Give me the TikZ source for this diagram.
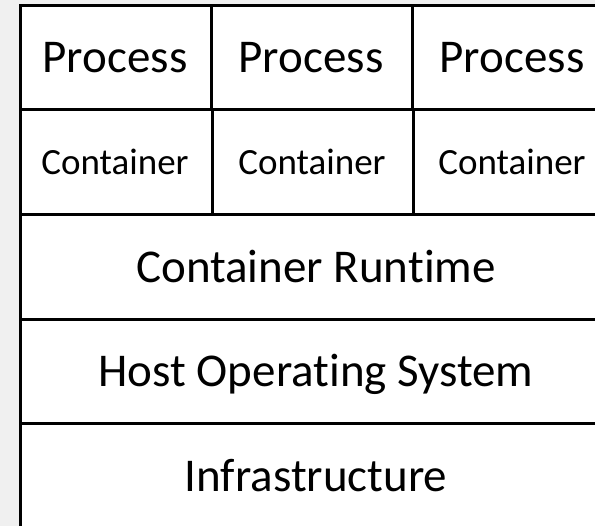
\documentclass[tikz,border=0pt]{standalone}
\usepackage{fontspec}
\setmainfont[Ligatures={NoCommon}]{Carlito}
\definecolor{pagegray}{HTML}{F0F0F0}
\tikzset{
  layer/.style={line width=3pt, draw=black},
  bigtext/.style={anchor=base, inner sep=0pt, font=\fontsize{47}{50}\selectfont},
  smalltext/.style={anchor=base, inner sep=0pt, font=\fontsize{37}{40}\selectfont},
}
\begin{document}
\begin{tikzpicture}[x=1pt, y=-1pt]
  \useasboundingbox (0,0) rectangle (595,526);
  \clip (0,0) rectangle (595,526);
  \fill[pagegray] (0,0) rectangle (595,526);
  % stack outline (runs past the right and bottom edges)
  \filldraw[layer, fill=white] (20,6) rectangle (612,529);
  % row separators
  \draw[layer] (20,110) -- (612,110);
  \draw[layer] (20,215) -- (612,215);
  \draw[layer] (20,320) -- (612,320);
  \draw[layer] (20,424) -- (612,424);
  % column separators in the top two rows
  \draw[layer] (211,6) -- (211,110);
  \draw[layer] (212,110) -- (212,215);
  \draw[layer] (412,6) -- (412,110);
  \draw[layer] (413,110) -- (413,215);
  % labels
  \node[bigtext] (p1) at (115,73) {Process};
  \node[bigtext] (p2) at (311,73) {Process};
  \node[bigtext] (p3) at (512,73) {Process};
  \node[smalltext] (c1) at (115,175) {Container};
  \node[smalltext] (c2) at (312,175) {Container};
  \node[smalltext] (c3) at (512,175) {Container};
  \node[bigtext] (rt) at (316,283) {Container Runtime};
  \node[bigtext] (os) at (316,387) {Host Operating System};
  \node[bigtext] (inf) at (316,492) {Infrastructure};
\end{tikzpicture}
\end{document}
